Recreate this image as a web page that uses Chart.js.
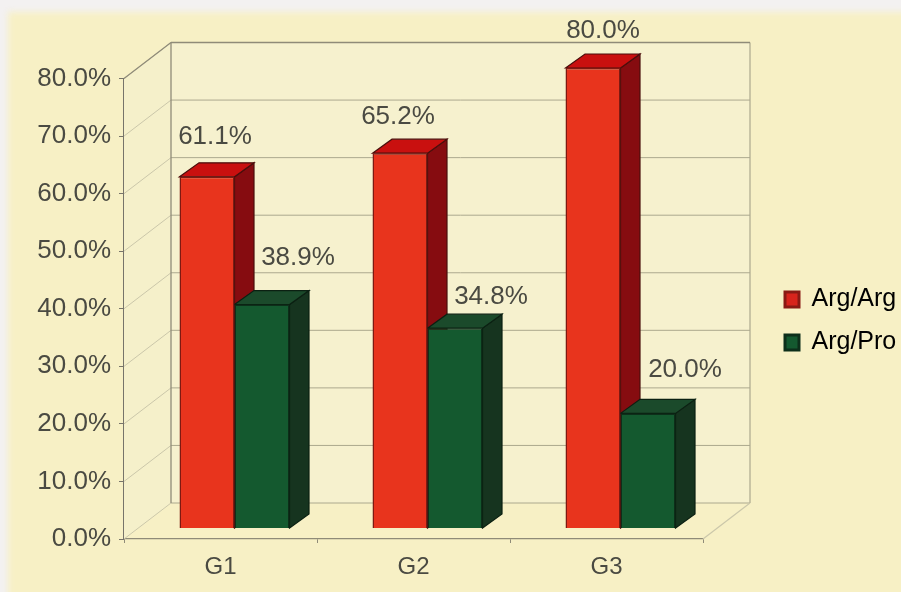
<!DOCTYPE html>
<html>
<head>
<meta charset="utf-8">
<style>
  html, body { margin: 0; padding: 0; background: #f3f1f1; overflow: hidden; }
  #wrap { width: 901px; height: 592px; position: relative; overflow: hidden; }
  #panel { position: absolute; left: 8px; top: 12px; right: -20px; bottom: -20px; background: #f7f0c5; filter: blur(3px); }
  #c { position: absolute; left: 0; top: 0; }
</style>
<script src="https://cdn.jsdelivr.net/npm/chart.js@4/dist/chart.umd.min.js"></script>
</head>
<body>
<div id="wrap"><div id="panel"></div><canvas id="c" width="901" height="592"></canvas></div>
<script>
const categories = ['G1', 'G2', 'G3'];
const argArg = [61.1, 65.2, 80.0];
const argPro = [38.9, 34.8, 20.0];

const INK = '#4a4a42';
const FAMILY = '"Liberation Sans", Arial, sans-serif';
const VALUE_FONT = { family: FAMILY, size: 26 };
const CATEGORY_FONT = { family: FAMILY, size: 24 };
const KEY_FONT = { family: FAMILY, size: 25 };

// Depth of the room behind the front plane, and of each column.
const ROOM = { dx: 47, dy: -36 };
const BAR_PLANE = { dx: 14, dy: -10.5 };
const BAR_DEPTH = { dx: 19.5, dy: -14 };

// Shades of the column faces, per series.
const FACES = [
  { front: '#e8341d', edge: '#7d1a12', side: '#860c10', top: '#c9100f', rim: '#4a0f0c' },
  { front: '#14592f', edge: '#0d2f1a', side: '#16341f', top: '#1b4a2b', rim: '#0b2012' }
];
// Hand placement of the value captions relative to each column's centre.
const CAPTION_SHIFT = [
  [{ x: 8, y: -40 }, { x: -2, y: -36 }, { x: 10, y: -37 }],
  [{ x: 36, y: -47 }, { x: 36, y: -31 }, { x: 37, y: -44 }]
];

function poly(ctx, pts, fill, stroke, lw) {
  ctx.beginPath();
  pts.forEach((p, i) => i ? ctx.lineTo(p[0], p[1]) : ctx.moveTo(p[0], p[1]));
  ctx.closePath();
  if (fill) { ctx.fillStyle = fill; ctx.fill(); }
  if (stroke) { ctx.strokeStyle = stroke; ctx.lineWidth = lw || 1; ctx.stroke(); }
}
function seg(ctx, x1, y1, x2, y2, color, lw) {
  ctx.beginPath();
  ctx.moveTo(x1, y1);
  ctx.lineTo(x2, y2);
  ctx.strokeStyle = color;
  ctx.lineWidth = lw;
  ctx.stroke();
}

const room = {
  id: 'room',
  // Walls and gridlines sit under everything else.
  beforeDatasetsDraw(chart) {
    const { ctx, chartArea: a, scales: { y } } = chart;
    const { dx, dy } = ROOM;
    ctx.save();
    poly(ctx, [[a.left + dx, a.top + dy], [a.right + dx, a.top + dy], [a.right + dx, a.bottom + dy], [a.left + dx, a.bottom + dy]], '#f6f1ce');
    poly(ctx, [[a.left, a.top], [a.left + dx, a.top + dy], [a.left + dx, a.bottom + dy], [a.left, a.bottom]], '#f5f0ca');
    y.ticks.forEach(t => {
      const py = y.getPixelForValue(t.value);
      seg(ctx, a.left, py, a.left + dx, py + dy, '#cbc7aa', 1);
      seg(ctx, a.left + dx, py + dy, a.right + dx, py + dy, '#aca88e', 1);
    });
    seg(ctx, a.left + dx, a.top + dy, a.left + dx, a.bottom + dy, '#8f8b78', 1.3);
    seg(ctx, a.right + dx, a.top + dy, a.right + dx, a.bottom + dy, '#aca88e', 1.2);
    seg(ctx, a.left + dx, a.top + dy, a.right + dx, a.top + dy, '#8f8b78', 1.3);
    seg(ctx, a.left, a.top, a.left + dx, a.top + dy, '#8f8b78', 1.2);
    seg(ctx, a.right, a.bottom, a.right + dx, a.bottom + dy, '#cbc7aa', 1.2);
    ctx.restore();

    // The column fronts are drawn by the library in this shifted plane.
    ctx.save();
    ctx.translate(BAR_PLANE.dx, BAR_PLANE.dy);
    FACES.forEach((f, d) => {
      chart.getDatasetMeta(d).data.forEach(bar => {
        const l = bar.x - bar.width / 2, r = bar.x + bar.width / 2;
        const t = bar.y, b = bar.base;
        const ox = BAR_DEPTH.dx, oy = BAR_DEPTH.dy;
        poly(ctx, [[r, t], [r + ox, t + oy], [r + ox, b + oy], [r, b]], f.side, f.rim, 1.2);
        poly(ctx, [[l, t], [l + ox, t + oy], [r + ox, t + oy], [r, t]], f.top, f.rim, 1.2);
      });
    });
  },
  afterDatasetsDraw(chart) {
    const { ctx } = chart;
    ctx.restore();
    ctx.save();
    ctx.translate(BAR_PLANE.dx, BAR_PLANE.dy);
    ctx.font = `${VALUE_FONT.size}px ${VALUE_FONT.family}`;
    ctx.fillStyle = INK;
    ctx.textAlign = 'center';
    ctx.textBaseline = 'middle';
    chart.data.datasets.forEach((ds, d) => {
      chart.getDatasetMeta(d).data.forEach((bar, i) => {
        const s = CAPTION_SHIFT[d][i];
        ctx.fillText(ds.data[i].toFixed(1) + '%', bar.x + s.x, bar.y + s.y);
      });
    });
    ctx.restore();
  },
  // Keep the key in the free strip right of the room.
  afterLayout(chart) {
    const lg = chart.legend;
    const w = lg.right - lg.left, h = lg.bottom - lg.top;
    lg.left = 767; lg.right = 767 + w;
    lg.top = 269; lg.bottom = 269 + h;
  }
};

new Chart(document.getElementById('c'), {
  type: 'bar',
  plugins: [room],
  data: {
    labels: categories,
    datasets: [
      { label: 'Arg/Arg', data: argArg, backgroundColor: FACES[0].front, borderColor: FACES[0].edge, borderWidth: 1.5, clip: false },
      { label: 'Arg/Pro', data: argPro, backgroundColor: FACES[1].front, borderColor: FACES[1].edge, borderWidth: 1.5, clip: false }
    ]
  },
  options: {
    responsive: false,
    animation: false,
    events: [],
    layout: { padding: { left: 0, top: 78.5, right: 198, bottom: 0 } },
    datasets: { bar: { categoryPercentage: 0.57, barPercentage: 1 } },
    plugins: {
      tooltip: { enabled: false },
      legend: {
        position: 'chartArea',
        align: 'start',
        labels: {
          font: KEY_FONT,
          color: INK,
          boxWidth: 14,
          boxHeight: 15,
          padding: 18,
          generateLabels(chart) {
            return chart.data.datasets.map((ds, i) => ({
              text: ds.label,
              fillStyle: i ? '#14592f' : '#d8241c',
              strokeStyle: i ? '#0d2f1a' : '#8a1a14',
              lineWidth: 3,
              datasetIndex: i
            }));
          }
        }
      }
    },
    scales: {
      x: {
        afterFit(s) { s.height = 53; },
        border: { color: '#8f8b78', width: 1.3 },
        grid: { drawOnChartArea: false, tickLength: 4, color: '#8f8b78' },
        ticks: { font: CATEGORY_FONT, color: INK, padding: 10, maxRotation: 0 }
      },
      y: {
        min: 0,
        max: 80,
        afterFit(s) { s.width = 124; },
        border: { color: '#77746a', width: 1.3 },
        grid: { drawOnChartArea: false, tickLength: 5, color: '#77746a' },
        ticks: { stepSize: 10, font: VALUE_FONT, color: INK, padding: 8, callback: v => v.toFixed(1) + '%' }
      }
    }
  }
});
</script>
</body>
</html>
